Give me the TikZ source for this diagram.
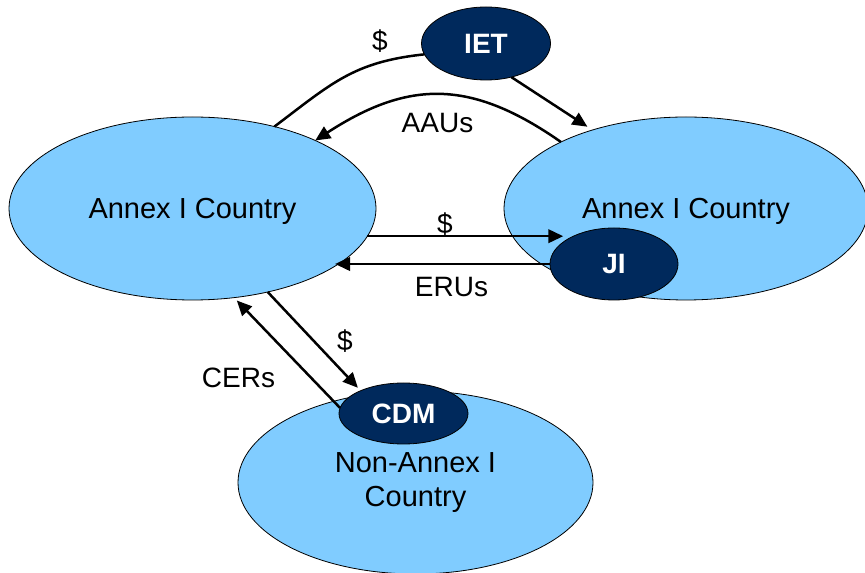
\documentclass[tikz,border=0pt]{standalone}
\usepackage{fontspec}
\setmainfont{Liberation Sans}
\usetikzlibrary{arrows.meta,shapes.geometric,calc}
\definecolor{countryblue}{RGB}{128,204,255}
\definecolor{mechnavy}{RGB}{0,41,92}
\pgfdeclarelayer{bg}
\pgfdeclarelayer{links}
\pgfsetlayers{bg,links,main}
\begin{document}
\begin{tikzpicture}[x=1pt,y=1pt,
  country/.style={ellipse, draw=black, line width=0.8pt, fill=countryblue,
    inner sep=0pt, outer sep=0pt, align=center,
    font=\fontsize{29}{34}\selectfont},
  mech/.style={ellipse, draw=black, line width=0.8pt, fill=mechnavy,
    text=white, inner sep=0pt, outer sep=0pt,
    font=\fontsize{28}{34}\selectfont\bfseries},
  plainlink/.style={line width=2.5pt},
  flow/.style={line width=2.5pt, -{Triangle[length=15pt,width=13.5pt]}},
  lbl/.style={font=\fontsize{28}{34}\selectfont, inner sep=0pt}]
\useasboundingbox (0,0) rectangle (865,573);

% countries
\begin{pgfonlayer}{bg}
\node[country, minimum width=367pt, minimum height=183pt,
      text height=20.8pt, text depth=0pt] (L) at (192.5,364.5) {Annex I Country};
\node[country, minimum width=364pt, minimum height=183pt,
      text height=20.8pt, text depth=0pt] (R) at (686,364.5) {Annex I Country};
\node[country, minimum width=355pt, minimum height=183pt] (N) at (415.5,90.5)
      {Non-Annex I\\Country};
\end{pgfonlayer}

% mechanisms
\node[mech, minimum width=129pt, minimum height=73pt] (IET) at (486,529.5) {IET};
\node[mech, minimum width=128pt, minimum height=72pt] (JI) at (614,309) {JI};
\node[mech, minimum width=129pt, minimum height=61pt] (CDM) at (403.5,159.5) {CDM};

% flows
\begin{pgfonlayer}{links}
\draw[plainlink] (L.45) to[out=37,in=186,looseness=1.1] (IET.190);
\draw[flow, shorten >=6pt] (IET.-53) -- (R.140);
\draw[flow] (R.152) to[out=145,in=33,looseness=1.15] (L.29);
\draw[flow, shorten >=7pt] (L.-9.65) -- (L.-9.65 -| JI.149.4);
\draw[flow] (JI.west) -- (JI.west -| L.-22);
\draw[flow, shorten >=4pt] (L.-48) -- (CDM.152);
\draw[flow, shorten >=4pt] (CDM.175) -- (L.-65);
\end{pgfonlayer}

% flow labels
\node[lbl] (d1) at (380,532) {\$};
\node[lbl] (aau) at (437.5,449.5) {AAUs};
\node[lbl] (d2) at (445,349) {\$};
\node[lbl] (eru) at (451.5,286) {ERUs};
\node[lbl] (d3) at (345,231.5) {\$};
\node[lbl] (cer) at (238.5,195) {CERs};
\end{tikzpicture}
\end{document}
